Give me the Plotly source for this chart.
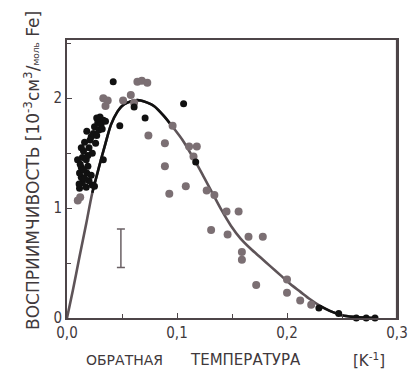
import plotly.graph_objects as go

# Theory curve
curve_x = [0.0, 0.0053, 0.0114, 0.0175, 0.023, 0.029, 0.035, 0.040, 0.046, 0.050, 0.055,
           0.061, 0.067, 0.073, 0.079, 0.088, 0.096, 0.105, 0.114, 0.123, 0.132, 0.140,
           0.149, 0.158, 0.167, 0.176, 0.185, 0.194, 0.203, 0.212, 0.221, 0.230, 0.240,
           0.250, 0.260, 0.270, 0.280]
curve_y = [0.0, 0.25, 0.56, 0.86, 1.14, 1.37, 1.59, 1.76, 1.88, 1.93, 1.96,
           1.98, 1.98, 1.96, 1.93, 1.84, 1.74, 1.62, 1.47, 1.31, 1.14, 0.99,
           0.84, 0.72, 0.63, 0.55, 0.47, 0.39, 0.31, 0.24, 0.17, 0.11, 0.06,
           0.025, 0.01, 0.003, 0.0]

# Gray measured points
gray_x = [0.0098, 0.012, 0.033, 0.037, 0.035, 0.051, 0.058, 0.061, 0.064, 0.068, 0.073,
          0.074, 0.089, 0.089, 0.093, 0.096, 0.108, 0.111, 0.118, 0.115, 0.127, 0.134,
          0.131, 0.145, 0.146, 0.156, 0.159, 0.159, 0.165, 0.178, 0.172, 0.200, 0.200,
          0.212, 0.222]
gray_y = [1.07, 1.10, 2.00, 1.98, 1.93, 1.98, 2.03, 1.96, 2.15, 2.16, 2.14,
          1.66, 1.59, 1.38, 1.13, 1.75, 1.20, 1.56, 1.56, 1.47, 1.16, 1.12,
          0.80, 0.97, 0.76, 0.97, 0.60, 0.53, 0.74, 0.74, 0.30, 0.35, 0.23,
          0.16, 0.12]

# Black measured points
black_x = [0.0114, 0.0175, 0.023, 0.013, 0.013, 0.014, 0.018, 0.0175, 0.016, 0.020, 0.022,
           0.025, 0.027, 0.030, 0.033, 0.023, 0.026, 0.029, 0.020, 0.014, 0.0114, 0.0096,
           0.033, 0.019, 0.024, 0.028, 0.031, 0.015, 0.021, 0.012, 0.016, 0.019, 0.011,
           0.013, 0.022, 0.025, 0.027, 0.018, 0.015, 0.032, 0.035,
           0.042, 0.048, 0.061, 0.071, 0.106, 0.117, 0.229, 0.247, 0.263, 0.272, 0.280]
black_y = [1.18, 1.19, 1.21, 1.28, 1.37, 1.46, 1.32, 1.44, 1.60, 1.55, 1.65,
           1.74, 1.82, 1.83, 1.80, 1.50, 1.59, 1.71, 1.25, 1.23, 1.32, 1.44,
           1.44, 1.38, 1.68, 1.78, 1.76, 1.52, 1.62, 1.40, 1.27, 1.48, 1.22,
           1.55, 1.30, 1.20, 1.66, 1.70, 1.35, 1.72, 1.79,
           2.15, 1.75, 1.92, 1.82, 1.95, 1.42, 0.09, 0.04, 0.0, 0.0, 0.0]

# Error bar example
err_x = [0.049]
err_y = [0.635]
err_half = [0.175]

x_tickvals = [0.0, 0.1, 0.2, 0.3]
x_ticktext = ["0,0", "0,1", "0,2", "0,3"]
y_tickvals = [0, 1, 2]
y_ticktext = ["0", "1", "2"]

GRAY = "#7b6f73"
FRAME = "#4d4548"
TEXT = "#3f393c"
FONT = "DejaVu Sans Condensed, Liberation Sans Narrow, Arial, sans-serif"
WIDE = "DejaVu Sans, Verdana, sans-serif"

fig = go.Figure()

fig.add_trace(go.Scatter(x=curve_x, y=curve_y, mode="lines",
                         line=dict(color="#5e5458", width=2.6, shape="spline", smoothing=0.8),
                         hoverinfo="skip"))
# black overlay segments of the curve
fig.add_trace(go.Scatter(x=curve_x[4:17], y=curve_y[4:17], mode="lines",
                         line=dict(color="#111111", width=2.6, shape="spline", smoothing=0.8),
                         hoverinfo="skip"))
fig.add_trace(go.Scatter(x=curve_x[31:], y=curve_y[31:], mode="lines",
                         line=dict(color="#111111", width=2.6, shape="spline", smoothing=0.8),
                         hoverinfo="skip"))

fig.add_trace(go.Scatter(x=gray_x, y=gray_y, mode="markers",
                         marker=dict(color=GRAY, size=8), cliponaxis=False))
fig.add_trace(go.Scatter(x=black_x, y=black_y, mode="markers",
                         marker=dict(color="#111111", size=7), cliponaxis=False))

fig.add_trace(go.Scatter(x=err_x, y=err_y, mode="markers",
                         marker=dict(size=0.1, color="rgba(0,0,0,0)"),
                         error_y=dict(type="data", array=err_half, color="#6a6064",
                                      thickness=1.5, width=4)))

fig.update_layout(
    width=413, height=371,
    margin=dict(l=67, r=5, t=40, b=53),
    paper_bgcolor="white", plot_bgcolor="white",
    showlegend=False,
    font=dict(family=FONT, color=TEXT, size=15),
)

# right-hand edge of the frame, drawn on top
fig.add_shape(type="line", xref="paper", yref="paper", x0=1, x1=1, y0=0, y1=1,
              line=dict(color=FRAME, width=2.2), layer="above")

fig.update_xaxes(range=[0, 0.3], tickvals=x_tickvals, ticktext=x_ticktext,
                 ticks="inside", ticklen=5, tickcolor=FRAME, ticklabeloverflow="allow",
                 minor=dict(dtick=0.05, ticks="inside", ticklen=4, tickcolor=FRAME),
                 showgrid=False, zeroline=False, showline=True, linecolor=FRAME,
                 linewidth=1.8, mirror=True, tickfont=dict(size=15, color=TEXT))
fig.update_yaxes(range=[0, 2.53], tickvals=y_tickvals, ticktext=y_ticktext,
                 ticks="inside", ticklen=5, tickcolor=FRAME,
                 minor=dict(dtick=0.5, ticks="inside", ticklen=4, tickcolor=FRAME),
                 showgrid=False, zeroline=False, showline=True, linecolor=FRAME,
                 linewidth=1.8, mirror=True, tickfont=dict(size=15, color=TEXT))

fig.add_annotation(
    text="ВОСПРИИМЧИВОСТЬ [10<sup>-3</sup>см<sup>3</sup>/<span style='font-size:9px'>моль</span> Fe]",
    xref="paper", yref="paper", x=-0.108, y=0.53, textangle=-90,
    showarrow=False, font=dict(size=17, color=TEXT, family=WIDE),
    xanchor="center", yanchor="middle")

x_title_parts = ["ОБРАТНАЯ", "ТЕМПЕРАТУРА", "[K<sup>-1</sup>]"]
x_title_pos = [0.174, 0.542, 0.915]
x_title_size = [14, 15, 15]
for txt, px, sz in zip(x_title_parts, x_title_pos, x_title_size):
    fig.add_annotation(text=txt, xref="paper", yref="paper", x=px, y=-0.151,
                       showarrow=False, font=dict(size=sz, color=TEXT, family=WIDE),
                       xanchor="center", yanchor="middle")

fig.write_html("out.html", config={"displayModeBar": False},
               post_script="document.body.style.margin='0';document.body.style.overflow='hidden';")
